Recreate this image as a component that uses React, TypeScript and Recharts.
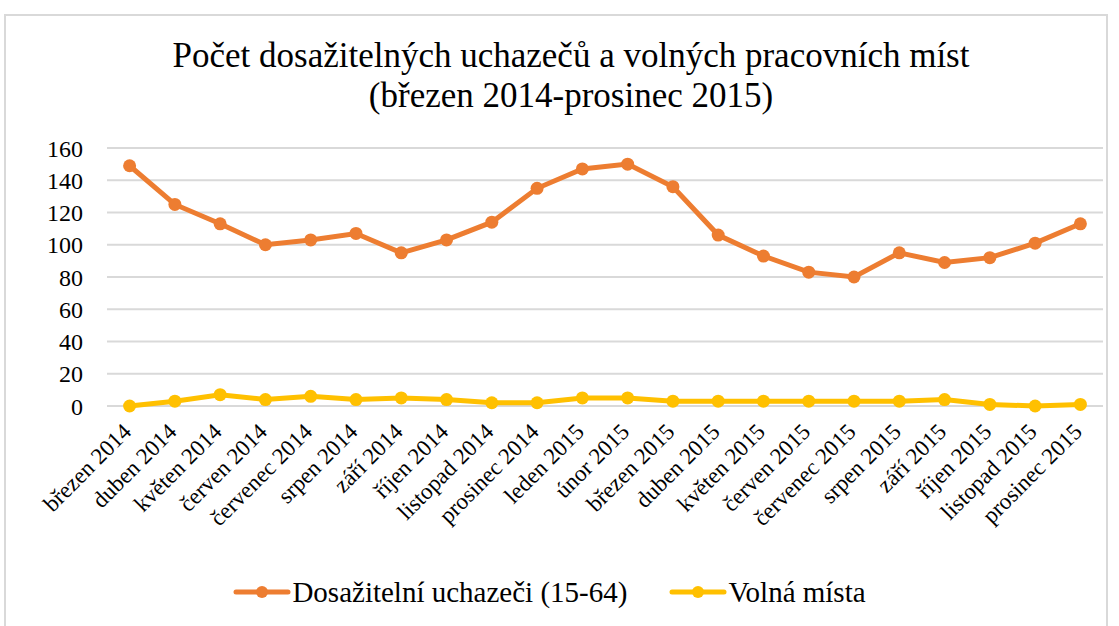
import React from "react"
import { LineChart, Line, XAxis, YAxis, CartesianGrid, Legend } from "recharts"

const months = [
  "březen 2014", "duben 2014", "květen 2014", "červen 2014", "červenec 2014", "srpen 2014",
  "září 2014", "říjen 2014", "listopad 2014", "prosinec 2014", "leden 2015", "únor 2015",
  "březen 2015", "duben 2015", "květen 2015", "červen 2015", "červenec 2015", "srpen 2015",
  "září 2015", "říjen 2015", "listopad 2015", "prosinec 2015",
]

const uchazeci = [149, 125, 113, 100, 103, 107, 95, 103, 114, 135, 147, 150, 136, 106, 93, 83, 80, 95, 89, 92, 101, 113]
const volnaMista = [0, 3, 7, 4, 6, 4, 5, 4, 2, 2, 5, 5, 3, 3, 3, 3, 3, 3, 4, 1, 0, 1]

const yTicks = [0, 20, 40, 60, 80, 100, 120, 140, 160]

const ORANGE = "#ED7D31"
const YELLOW = "#FFC000"
const FONT = "Liberation Serif, Times New Roman, serif"

const data = months.map((m, i) => ({ month: m, uchazeci: uchazeci[i], volna: volnaMista[i] }))

function MonthTick(props: any) {
  const { x, y, payload } = props
  const px = x + 3
  const py = y + 27
  return (
    <text
      x={px}
      y={py}
      transform={`rotate(-45, ${px}, ${py})`}
      textAnchor="end"
      fontSize={23}
      fontFamily={FONT}
      fill="#000"
    >
      {payload.value}
    </text>
  )
}

function LegendContent(props: any) {
  const items = [
    { label: "Dosažitelní uchazeči (15-64)", color: ORANGE, gap: 42 },
    { label: "Volná místa", color: YELLOW, gap: 0 },
  ]
  return (
    <div style={{ display: "flex", justifyContent: "center", alignItems: "center", height: 40, paddingRight: 4 }}>
      {items.map((it) => (
        <div key={it.label} style={{ display: "flex", alignItems: "center", marginRight: it.gap }}>
          <svg width={58} height={16}>
            <line x1={3} y1={8} x2={55} y2={8} stroke={it.color} strokeWidth={5} strokeLinecap="round" />
            <circle cx={29} cy={8} r={6} fill={it.color} />
          </svg>
          <span style={{ fontFamily: FONT, fontSize: 29, color: "#000", marginLeft: 1 }}>{it.label}</span>
        </div>
      ))}
    </div>
  )
}

export default function App() {
  return (
    <div style={{ position: "absolute", left: 0, top: 0, width: 1119, height: 626, background: "#fff", overflow: "hidden", fontFamily: FONT }}>
      <div
        style={{
          position: "absolute",
          left: 4,
          top: 14,
          width: 1104,
          height: 640,
          border: "2px solid #D9D9D9",
          boxSizing: "border-box",
        }}
      />
      <div
        style={{
          position: "absolute",
          left: 0,
          top: 36,
          width: 1142,
          textAlign: "center",
          fontFamily: FONT,
          fontSize: 35,
          lineHeight: "40px",
          color: "#000",
        }}
      >
        Počet dosažitelných uchazečů a volných pracovních míst
        <br />
        (březen 2014-prosinec 2015)
      </div>
      <div style={{ position: "absolute", left: 0, top: 0 }}>
        <LineChart
          width={1119}
          height={626}
          data={data}
          margin={{ top: 148, right: 16, bottom: 14, left: 0 }}
          style={{ fontFamily: FONT }}
        >
          <CartesianGrid vertical={false} stroke="#D9D9D9" strokeWidth={2} />
          <XAxis
            dataKey="month"
            interval={0}
            axisLine={false}
            tickLine={false}
            tickSize={0}
            tickMargin={0}
            height={166}
            padding={{ left: 22.6, right: 22.6 }}
            tick={<MonthTick />}
          />
          <YAxis
            domain={[0, 160]}
            ticks={yTicks}
            width={107}
            axisLine={false}
            tickLine={false}
            tickSize={0}
            tickMargin={24}
            tick={{ fontSize: 24, fontFamily: FONT, fill: "#000" }}
          />
          <Legend verticalAlign="bottom" content={<LegendContent />} wrapperStyle={{ bottom: 14 }} />
          <Line
            dataKey="uchazeci"
            name="Dosažitelní uchazeči (15-64)"
            stroke={ORANGE}
            strokeWidth={5}
            dot={{ r: 6.5, fill: ORANGE, stroke: ORANGE, strokeWidth: 0 }}
            isAnimationActive={false}
          />
          <Line
            dataKey="volna"
            name="Volná místa"
            stroke={YELLOW}
            strokeWidth={5}
            dot={{ r: 6.5, fill: YELLOW, stroke: YELLOW, strokeWidth: 0 }}
            isAnimationActive={false}
          />
        </LineChart>
      </div>
    </div>
  )
}
